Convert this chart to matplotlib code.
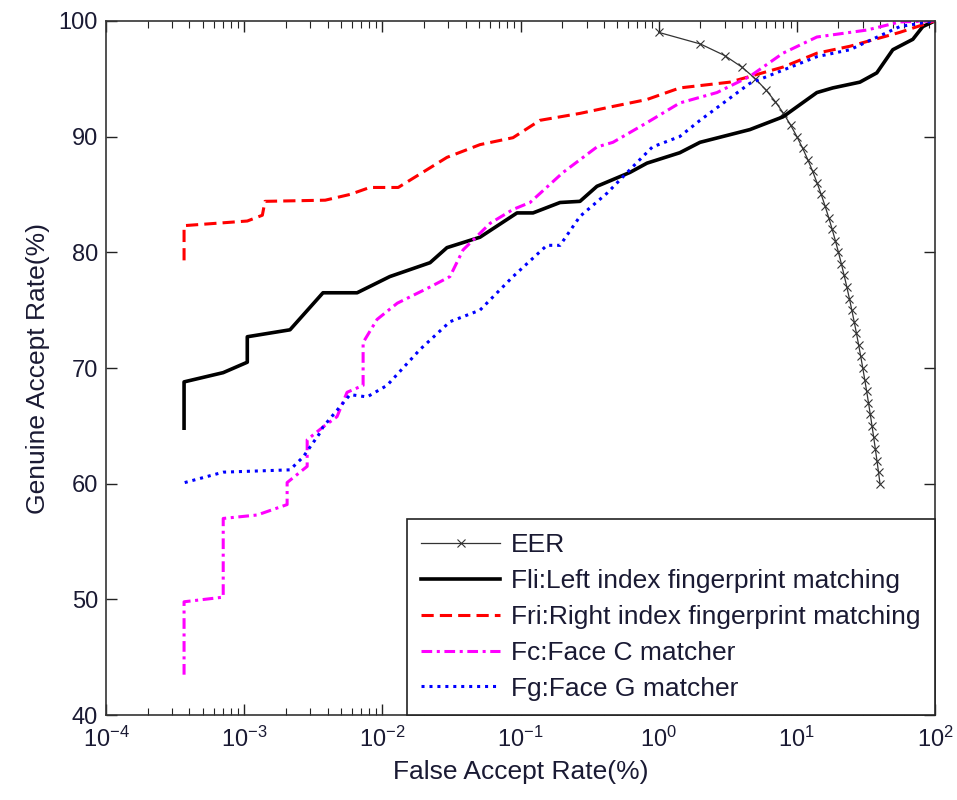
import matplotlib
matplotlib.use("Agg")
import matplotlib.pyplot as plt
from matplotlib.ticker import FixedLocator, LogFormatterSciNotation, NullFormatter

plt.rcParams["font.family"] = ["Liberation Sans", "DejaVu Sans"]
plt.rcParams["mathtext.fontset"] = "custom"
plt.rcParams["mathtext.rm"] = "Liberation Sans"

# EER curve (FAR %, GAR %)
eer_far = [1, 2, 3, 4, 5, 6, 7, 8, 9, 10, 11, 12, 13, 14, 15, 16, 17, 18, 19, 20,
           21, 22, 23, 24, 25, 26, 27, 28, 29, 30, 31, 32, 33, 34, 35, 36, 37, 38, 39, 40]
eer_gar = [99, 98, 97, 96, 95, 94, 93, 92, 91, 90, 89, 88, 87, 86, 85, 84, 83, 82, 81, 80,
           79, 78, 77, 76, 75, 74, 73, 72, 71, 70, 69, 68, 67, 66, 65, 64, 63, 62, 61, 60]

# Fli: left index fingerprint
fli_far = [3.66e-4, 3.66e-4, 7.03e-4, 1.05e-3, 1.05e-3, 2.14e-3, 3.71e-3, 6.55e-3, 1.13e-2,
           2.21e-2, 2.93e-2, 5.08e-2, 9.42e-2, 0.123, 0.193, 0.269, 0.357, 0.619, 0.822,
           1.42, 1.99, 4.57, 7.93, 13.96, 18.2, 28.6, 37.9, 49.5, 69.1, 81.6, 100]
fli_gar = [64.8, 68.8, 69.6, 70.5, 72.7, 73.3, 76.5, 76.5, 77.9,
           79.1, 80.4, 81.3, 83.4, 83.4, 84.3, 84.4, 85.7, 86.9, 87.7,
           88.6, 89.5, 90.6, 91.7, 93.8, 94.2, 94.7, 95.5, 97.5, 98.4, 99.5, 100]

# Fri: right index fingerprint
fri_far = [3.66e-4, 3.66e-4, 1.05e-3, 1.35e-3, 1.41e-3, 3.85e-3, 5.83e-3, 8.1e-3, 1.3e-2,
           2.93e-2, 5.08e-2, 8.81e-2, 0.138, 0.269, 0.466, 0.822, 1.42, 3.27, 7.93,
           13.96, 24.2, 55.6, 100]
fri_gar = [79.3, 82.3, 82.7, 83.2, 84.4, 84.5, 85.0, 85.6, 85.6,
           88.2, 89.3, 89.9, 91.4, 92.0, 92.6, 93.2, 94.2, 94.7, 96.0,
           97.2, 97.8, 99.0, 100]

# Fc: face C matcher
fc_far = [3.66e-4, 3.66e-4, 7.03e-4, 7.03e-4, 1.24e-3, 2.04e-3, 2.04e-3, 2.85e-3, 2.85e-3,
          3.71e-3, 4.69e-3, 5.54e-3, 7.24e-3, 7.24e-3, 9.14e-3, 1.28e-2, 2.21e-2, 3.08e-2,
          3.83e-2, 6.01e-2, 8.81e-2, 0.117, 0.203, 0.357, 0.466, 0.822, 1.42, 2.64, 4.57,
          7.93, 13.96, 32.1, 55.6, 100]
fc_gar = [43.5, 49.8, 50.2, 57.0, 57.3, 58.2, 60.1, 61.5, 63.8,
          64.9, 65.8, 67.9, 68.5, 72.2, 74.2, 75.6, 77.0, 77.9,
          80.2, 82.5, 83.7, 84.3, 86.9, 89.1, 89.5, 91.2, 92.9, 93.8, 95.2,
          97.2, 98.6, 99.2, 99.9, 100]

# Fg: face G matcher
fg_far = [3.7e-4, 7.03e-4, 2.14e-3, 2.66e-3, 3.53e-3, 3.71e-3, 5.83e-3, 7.74e-3, 1.08e-2,
          1.87e-2, 3.08e-2, 5.08e-2, 8.81e-2, 0.155, 0.193, 0.269, 0.422, 0.65, 0.9,
          1.42, 1.99, 4.57, 13.96, 24.2, 55.6, 100]
fg_gar = [60.1, 61.0, 61.2, 62.3, 64.4, 64.9, 67.7, 67.5, 68.5,
          71.6, 74.0, 75.0, 77.9, 80.6, 80.6, 83.1, 85.1, 87.4, 89.1,
          90.0, 91.4, 94.6, 96.9, 97.5, 99.5, 100]

x_major = [1e-4, 1e-3, 1e-2, 1e-1, 1e0, 1e1, 1e2]
y_major = [40, 50, 60, 70, 80, 90, 100]

TEXT_COLOR = "#1a1a33"


def main():
    fig = plt.figure(figsize=(9.57, 8.0), dpi=100)
    ax = fig.add_axes([0.111, 0.106, 0.866, 0.868])

    ax.plot(eer_far, eer_gar, color="#333333", lw=0.9, marker="x", ms=6, mew=0.8,
            label="EER")
    ax.plot(fli_far, fli_gar, color="black", lw=2.6, label="Fli:Left index fingerprint matching")
    ax.plot(fri_far, fri_gar, color="#ff0000", lw=2.2, dashes=(4, 2),
            label="Fri:Right index fingerprint matching")
    ax.plot(fc_far, fc_gar, color="#ff00ff", lw=2.2, dashes=(3.5, 1.5, 1, 1.5),
            label="Fc:Face C matcher")
    ax.plot(fg_far, fg_gar, color="#0000ff", lw=2.2, dashes=(1, 1.6),
            label="Fg:Face G matcher")

    ax.set_xscale("log")
    ax.set_xlim(1e-4, 1e2)
    ax.set_ylim(40, 100)
    # minor log ticks 2..9 within each decade
    minors = [m * d for d in x_major[:-1] for m in range(2, 10)]
    ax.xaxis.set_major_locator(FixedLocator(x_major))
    ax.xaxis.set_minor_locator(FixedLocator(minors))
    ax.xaxis.set_major_formatter(LogFormatterSciNotation())
    ax.xaxis.set_minor_formatter(NullFormatter())
    ax.set_yticks(y_major)
    ax.tick_params(which="both", direction="in", top=True, right=True, labelsize=17,
                   colors="#222222", labelcolor=TEXT_COLOR)
    ax.tick_params(which="major", length=8, width=1)
    ax.tick_params(which="minor", length=5, width=0.8)
    ax.tick_params(axis="x", pad=8)
    ax.tick_params(axis="y", pad=6)
    for s in ax.spines.values():
        s.set_color("#333333")
        s.set_linewidth(1.2)

    ax.set_xlabel("False Accept Rate(%)", fontsize=19, color=TEXT_COLOR, labelpad=6)
    ax.set_ylabel("Genuine Accept Rate(%)", fontsize=19, color=TEXT_COLOR, labelpad=6)

    leg = ax.legend(loc="lower right", borderaxespad=0, fancybox=False, framealpha=1,
                    edgecolor="#222222", fontsize=19, handlelength=3.0,
                    handletextpad=0.4, labelspacing=0.45, borderpad=0.55)
    leg.get_frame().set_linewidth(1.2)
    for t in leg.get_texts():
        t.set_color(TEXT_COLOR)

    fig.savefig("out.png", dpi=100)
    plt.close(fig)


if __name__ == "__main__":
    main()
